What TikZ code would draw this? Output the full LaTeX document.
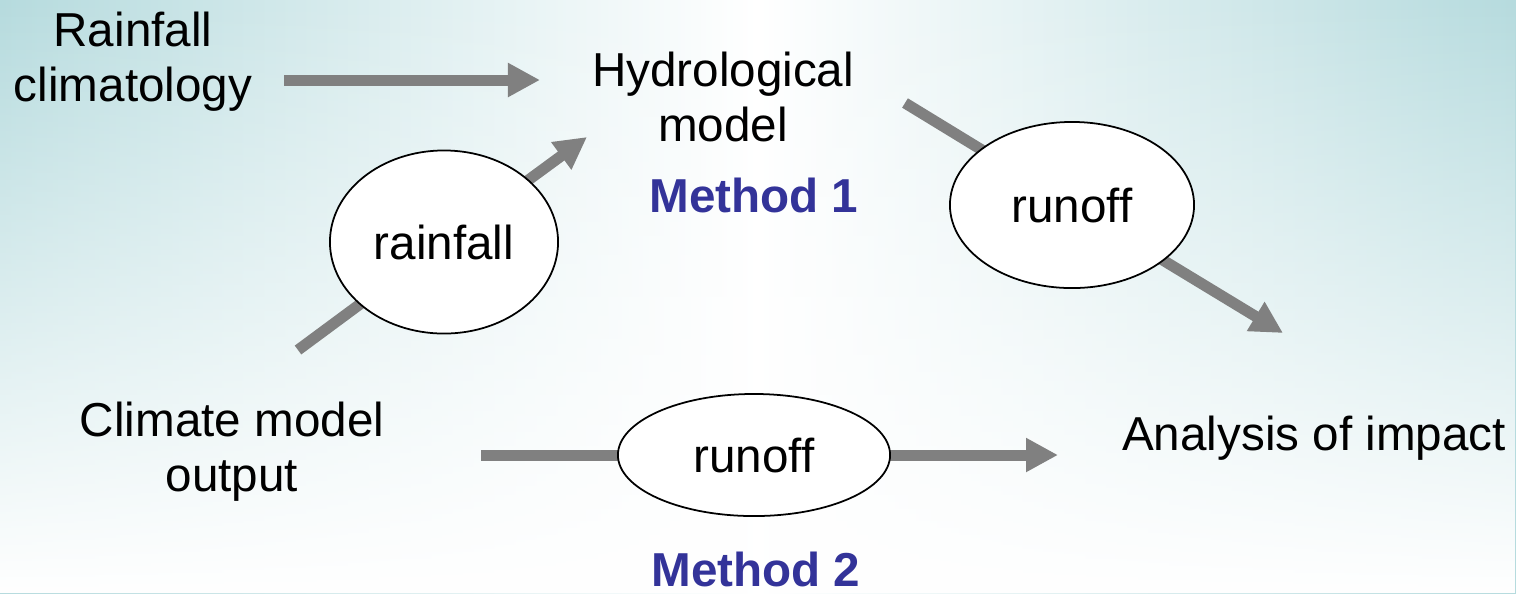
\documentclass[tikz,border=0pt]{standalone}
\usepackage{fontspec}
\setmainfont{Liberation Sans}
\usetikzlibrary{arrows.meta,shapes.geometric,fadings,backgrounds}
\definecolor{bgteal}{RGB}{182,219,222}
\definecolor{methodblue}{RGB}{51,51,153}
\definecolor{flowgray}{RGB}{128,128,128}
\begin{document}
\begin{tikzpicture}[x=0.01cm,y=-0.01cm]
\tikzstyle{every node}+=[inner sep=0pt,font=\fontsize{13.54}{15.65}\selectfont]
\tikzstyle{flow}=[draw=flowgray,line width=0.11cm,-{Triangle[length=0.32cm,width=0.32cm]}]
\tikzstyle{bubble}=[ellipse,draw=black,line width=0.5pt,fill=white,outer sep=0pt]
\tikzstyle{method}=[font=\fontsize{13.54}{15.65}\selectfont\bfseries,text=methodblue,anchor=base]
\useasboundingbox (0,0) rectangle (1516,593);
% text blocks
\node[align=center] (rainclim) at (133,62) {Rainfall\\climatology};
\node[align=center] (hydro) at (723,97) {Hydrological\\model};
\node[align=center] (climout) at (232,452) {Climate model\\output};
\node[anchor=base] (impact) at (1314,450) {Analysis of impact};
\node[method] (meth1) at (754,212) {Method 1};
\node[method] (meth2) at (756,586) {Method 2};
% bubbles
\node[bubble,minimum width=2.28cm,minimum height=1.83cm] (rain) at (444,242) {rainfall};
\node[bubble,minimum width=2.44cm,minimum height=1.66cm] (runoffa) at (1072,205) {runoff};
\node[bubble,minimum width=2.72cm,minimum height=1.22cm] (runoffb) at (754,455) {runoff};
% arrow ends
\coordinate (rainclim-out) at (284,80);
\coordinate (hydro-in) at (540,80);
\coordinate (climout-up) at (298,350);
\coordinate (hydro-low) at (587,137);
\coordinate (hydro-out) at (905,103);
\coordinate (impact-up) at (1283,333);
\coordinate (climout-right) at (481,455);
\coordinate (impact-left) at (1058,455);
\begin{pgfonlayer}{background}
\fill[left color=bgteal,right color=bgteal,middle color=white] (0,0) rectangle (1516,593);
\fill[white,path fading=north] (0,0) rectangle (1516,593);
\draw[flow] (rainclim-out) -- (hydro-in);
\draw[flow] (climout-up) -- (rain.center) -- (hydro-low);
\draw[flow] (hydro-out) -- (runoffa.center) -- (impact-up);
\draw[flow] (climout-right) -- (runoffb.center) -- (impact-left);
\end{pgfonlayer}
\end{tikzpicture}
\end{document}
